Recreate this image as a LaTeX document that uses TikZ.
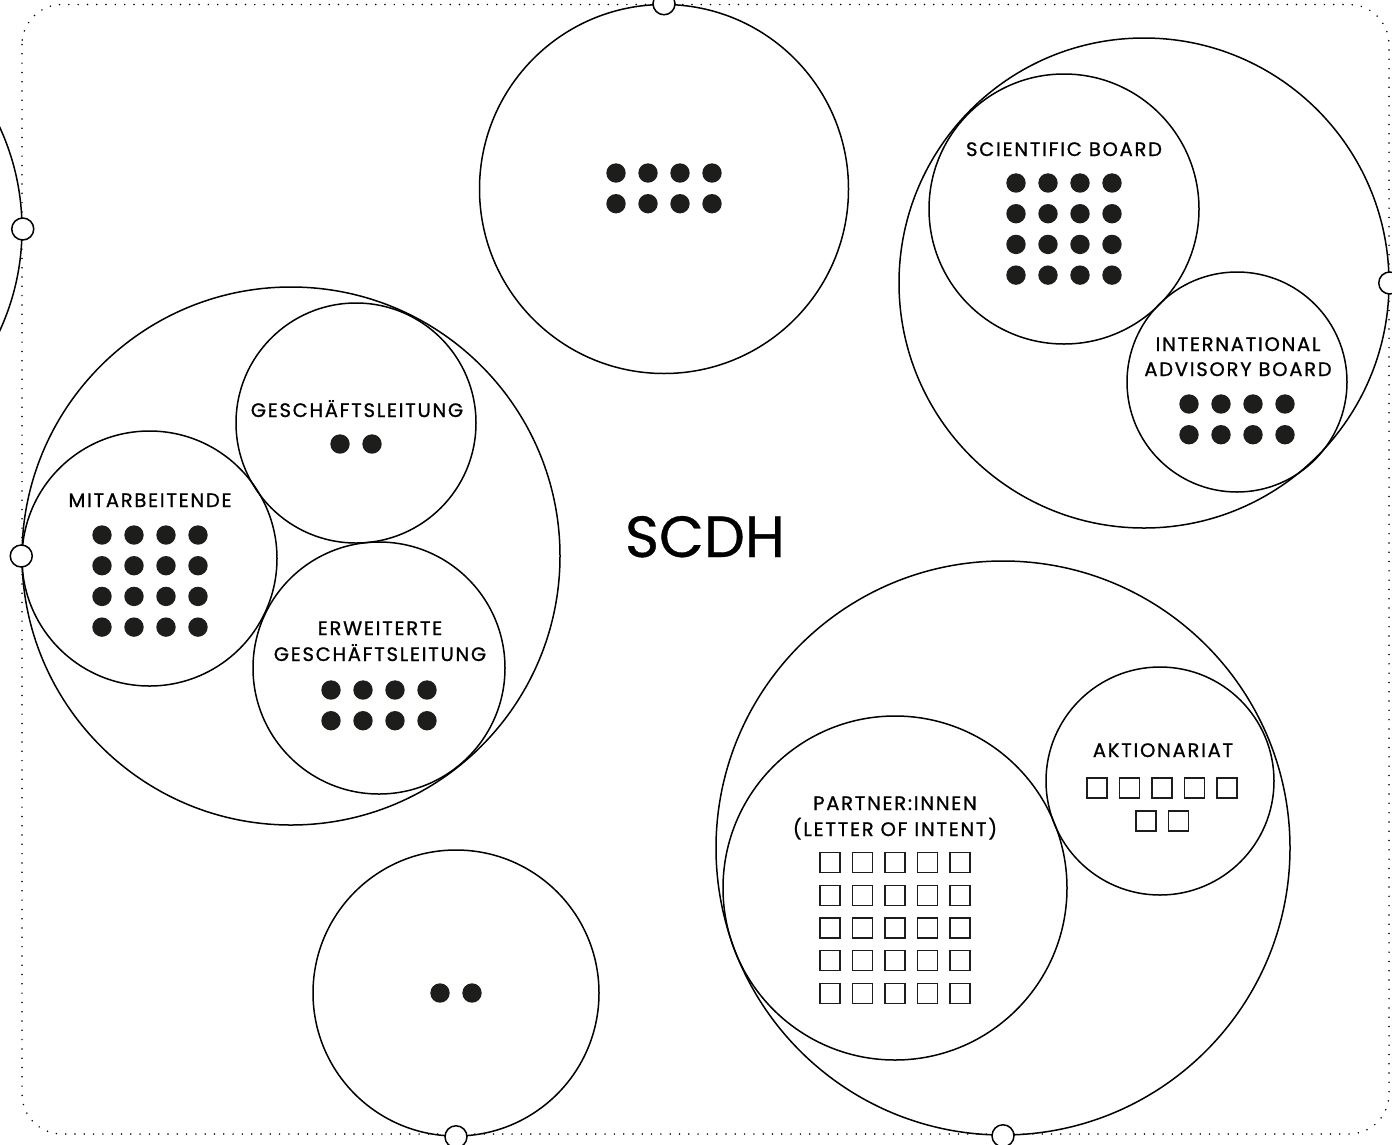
\documentclass[tikz,border=0pt]{standalone}
\usepackage{fontspec}
\setmainfont{Poppins}
\newfontfamily\lblfont{Poppins}[LetterSpace=9,FakeBold=1]
\newfontfamily\titlefont{Poppins}[FakeBold=0.6]
\definecolor{dotgray}{HTML}{1D1D1B}
\tikzset{
	ring/.style={circle,draw,line width=1.5pt,inner sep=0pt},
	port/.style={circle,draw,fill=white,line width=1.5pt,inner sep=0pt,minimum size=22pt},
	caption/.style={anchor=base,inner sep=0pt,font=\lblfont\fontsize{19.5}{24}\selectfont},
	frame/.style={line width=1.7pt,line cap=round,dash pattern=on 0pt off 9.3pt,rounded corners=40pt},
}
\newcommand{\dotGrid}[4]{
	% #1: x of first dot
	% #2: y of first dot
	% #3: columns
	% #4: rows
	\foreach \cx in {1,...,#3}
		\foreach \cy in {1,...,#4}
			\fill[dotgray] (#1+32*\cx-32,#2+30.7*\cy-30.7) circle (9.7pt);
}
\newcommand{\boxGrid}[4]{
	% #1: x of first box
	% #2: y of first box
	% #3: columns
	% #4: rows
	\foreach \cx in {1,...,#3}
		\foreach \cy in {1,...,#4}
			\draw[line width=1.3pt,dotgray] (#1+32.5*\cx-42.5,#2+32.7*\cy-42.7) rectangle ++(20,20);
}
\begin{document}
\begin{tikzpicture}[x=1pt,y=-1pt]

\useasboundingbox (0,0) rectangle (1392,1144);
\clip (0,0) rectangle (1392,1144);

% frame
\draw[frame] (22,4.5) rectangle (1389,1134);

% outer circles
\node[ring,minimum size=486pt] (side) at (-221,229) {};
\node[ring,minimum size=369pt] (top) at (664,189) {};
\node[ring,minimum size=538pt] (staff) at (291,556) {};
\node[ring,minimum size=490pt] (boards) at (1144,283) {};
\node[ring,minimum size=286pt] (bottom) at (456,993) {};
\node[ring,minimum size=574pt] (owners) at (1003,848) {};

% inner circles
\node[ring,minimum size=255pt] (mitarbeit) at (149.5,558.5) {};
\node[ring,minimum size=240pt] (gl) at (356,423) {};
\node[ring,minimum size=252pt] (egl) at (379,668) {};
\node[ring,minimum size=270pt] (scientific) at (1064,209) {};
\node[ring,minimum size=220pt] (advisory) at (1237,382) {};
\node[ring,minimum size=344pt] (partner) at (895,888) {};
\node[ring,minimum size=228pt] (aktionariat) at (1160,781) {};

% ports on the frame
\node[port] (sideport) at (side.east) {};
\node[port] (topport) at (top.north) {};
\node[port] (staffport) at (staff.west) {};
\node[port] (boardsport) at (boards.east) {};
\node[port] (bottomport) at (bottom.south) {};
\node[port] (ownersport) at (owners.south) {};

% labels
\node[caption] (gltext) at (357,417) {GESCHÄFTSLEITUNG};
\node[caption] (mitarbeittext) at (150,507) {MITARBEITENDE};
\node[caption] (egltext1) at (380,635) {ERWEITERTE};
\node[caption] (egltext2) at (380,661) {GESCHÄFTSLEITUNG};
\node[caption] (scientifictext) at (1064,156) {SCIENTIFIC BOARD};
\node[caption] (advisorytext1) at (1238,351) {INTERNATIONAL};
\node[caption] (advisorytext2) at (1238,376) {ADVISORY BOARD};
\node[caption] (aktionariattext) at (1163,757) {AKTIONARIAT};
\node[caption] (partnertext1) at (895,810) {PARTNER:INNEN};
\node[caption] (partnertext2) at (895,836) {(LETTER OF INTENT)};
\node[caption,font=\titlefont\fontsize{58}{58}\selectfont] (scdh) at (705,557) {SCDH};

% members
\dotGrid{616}{173}{4}{2}
\dotGrid{340}{444}{2}{1}
\dotGrid{102}{535}{4}{4}
\dotGrid{331}{690}{4}{2}
\dotGrid{1016}{183}{4}{4}
\dotGrid{1189}{404}{4}{2}
\dotGrid{440}{993}{2}{1}
\boxGrid{830}{862.5}{5}{5}
\boxGrid{1097}{788}{5}{1}
\boxGrid{1146}{821}{2}{1}

\end{tikzpicture}
\end{document}
